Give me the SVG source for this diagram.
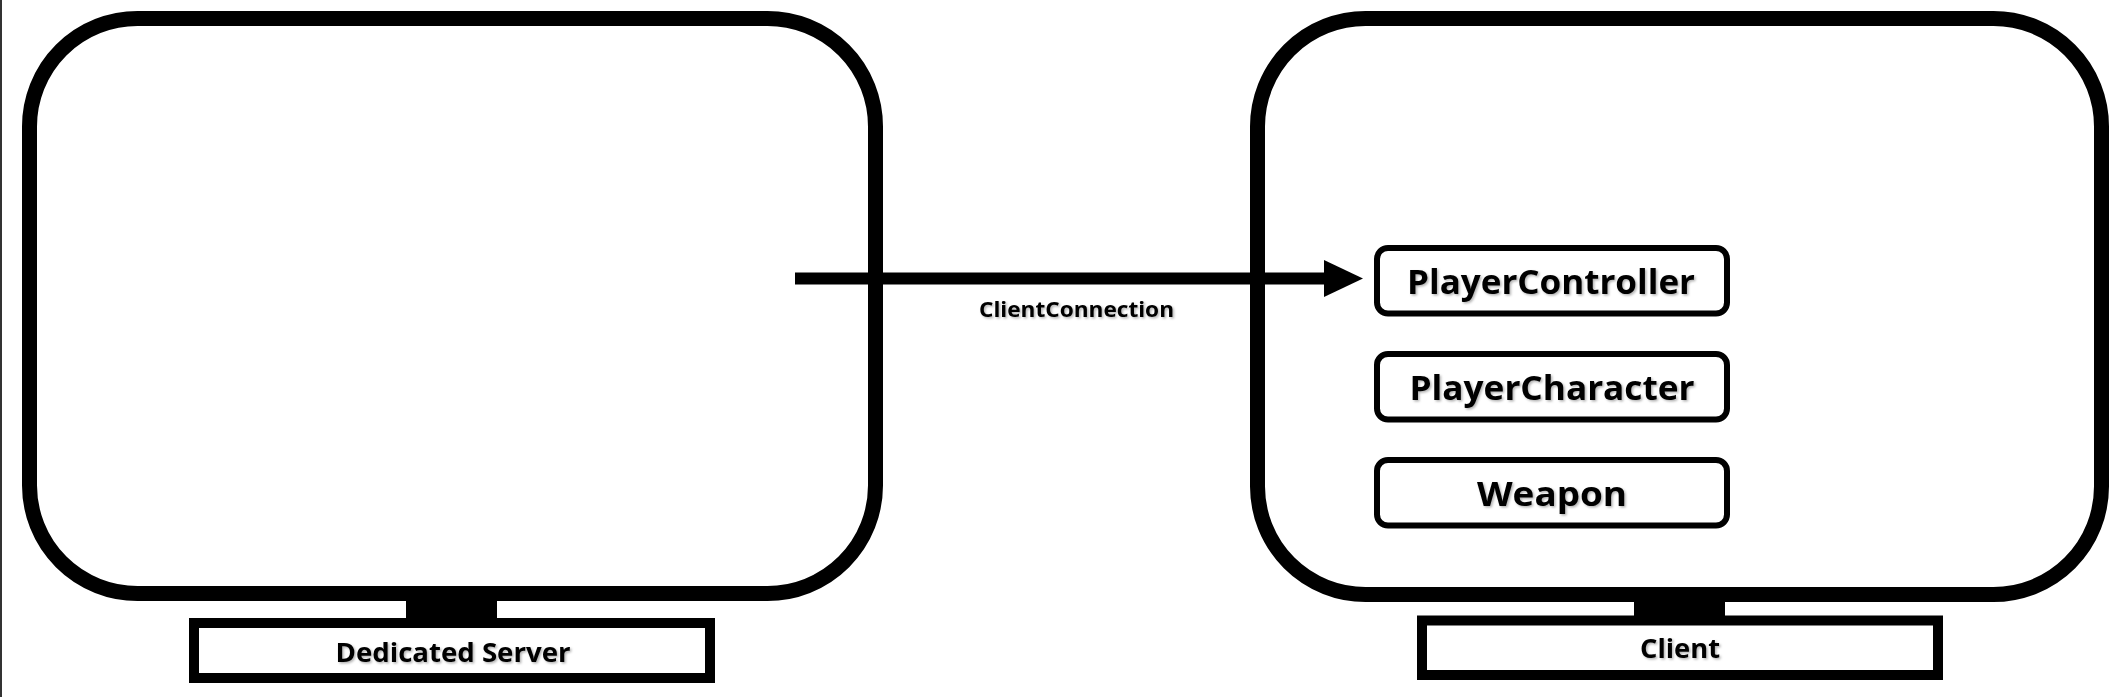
<svg xmlns="http://www.w3.org/2000/svg" width="2128" height="697" viewBox="0 0 2128 697">
<defs>
<filter id="sh" x="-10%" y="-30%" width="120%" height="160%">
<feDropShadow dx="1.5" dy="1.5" stdDeviation="1.2" flood-color="#000" flood-opacity="0.3"/>
</filter>
</defs>
<style>
.mon{fill:none;stroke:#000;stroke-width:15}
.base{fill:#fff;stroke:#000;stroke-width:10}
.neck{fill:#000}
.item{fill:#fff;stroke:#000;stroke-width:6}
text{font-family:"Open Sans","Noto Sans","Liberation Sans",sans-serif;font-weight:700;fill:#000;text-anchor:middle;filter:url(#sh)}
.lbl{font-size:27px}
.itm{font-size:34px}
.con{font-size:22px}
</style>
<rect x="0" y="0" width="2128" height="697" fill="#fff"/>
<rect x="0" y="0" width="2" height="697" fill="#333"/>
<g id="server">
<rect class="mon" x="29.5" y="18.5" width="846" height="575" rx="108" ry="108"/>
<rect class="neck" x="406" y="593" width="91" height="27"/>
<rect class="base" x="194" y="623" width="516" height="55"/>
<text class="lbl" x="453" y="662" textLength="235" lengthAdjust="spacingAndGlyphs">Dedicated Server</text>
</g>
<g id="client">
<rect class="mon" x="1257.5" y="18.5" width="844" height="576" rx="108" ry="108"/>
<rect class="neck" x="1634" y="594" width="91" height="24"/>
<rect class="base" x="1422" y="620.5" width="516" height="54.5"/>
<text class="lbl" x="1680" y="658" textLength="80" lengthAdjust="spacingAndGlyphs">Client</text>
</g>
<g id="playercontroller">
<rect class="item" x="1377" y="248" width="350" height="65.5" rx="11"/>
<text class="itm" x="1551" y="294" textLength="288" lengthAdjust="spacingAndGlyphs">PlayerController</text>
</g>
<g id="playercharacter">
<rect class="item" x="1377" y="354" width="350" height="65.5" rx="11"/>
<text class="itm" x="1552" y="400" textLength="285" lengthAdjust="spacingAndGlyphs">PlayerCharacter</text>
</g>
<g id="weapon">
<rect class="item" x="1377" y="460" width="350" height="65.5" rx="11"/>
<text class="itm" x="1552" y="506" textLength="150" lengthAdjust="spacingAndGlyphs">Weapon</text>
</g>
<g id="connectors">
<line x1="795" y1="278.5" x2="1326" y2="278.5" stroke="#000" stroke-width="12"/>
<polygon points="1324,260 1363,278.5 1324,297" fill="#000"/>
<text class="con" x="1076.5" y="317" textLength="195" lengthAdjust="spacingAndGlyphs">ClientConnection</text>
</g>
</svg>
